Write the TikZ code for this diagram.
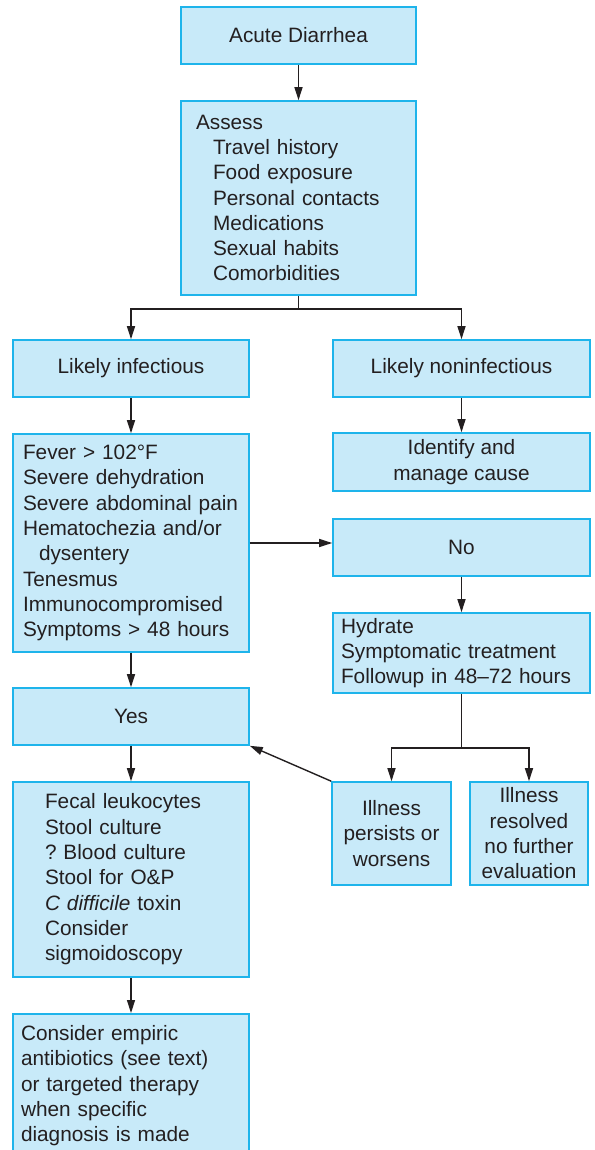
\documentclass[tikz,border=0pt]{standalone}
\usepackage{fontspec}
\setmainfont{Liberation Sans}
\usepackage{tikz}
\usetikzlibrary{arrows.meta, positioning}

\definecolor{boxfill}{RGB}{200,234,249}
\definecolor{boxline}{RGB}{30,180,235}
\definecolor{ink}{RGB}{35,31,32}

\frenchspacing

\tikzset{
    box/.style={draw=boxline, fill=boxfill, line width=0.8pt, text=ink,
        font=\fontsize{10.4}{12.65}\selectfont, inner sep=0pt},
    listbox/.style={box, align=left},
    arr/.style={draw=ink, line width=0.7pt, -{Triangle[length=6.5pt,width=4pt]}},
    link/.style={draw=ink, line width=0.7pt}
}

\begin{document}
\begin{tikzpicture}[x=0.5pt, y=-0.5pt]
                \clip (0,0) rectangle (594,1150);
                \fill[white] (0,0) rectangle (594,1150);

                \node[box, minimum width=117.5pt, minimum height=28.5pt] (acute) at (298.5,35.5) {Acute Diarrhea};
                \node[listbox, minimum width=117.5pt, minimum height=97pt, text width=102.5pt, inner xsep=7.5pt] (assess) at (298.5,198)
                    {Assess\\
                     \hspace*{8.5pt}Travel history\\
                     \hspace*{8.5pt}Food exposure\\
                     \hspace*{8.5pt}Personal contacts\\
                     \hspace*{8.5pt}Medications\\
                     \hspace*{8.5pt}Sexual habits\\
                     \hspace*{8.5pt}Comorbidities};

                \node[box, minimum width=118pt, minimum height=28.5pt] (inf) at (131,368.5) {Likely infectious};
                \node[box, minimum width=128.5pt, minimum height=28.5pt] (noninf) at (461.5,368.5) {Likely noninfectious};

                \node[listbox, minimum width=118pt, minimum height=109pt, text width=112pt, inner xsep=3pt] (fever) at (131,543)
                    {\hspace*{2pt}Fever > 102°F\\
                     \hspace*{2pt}Severe dehydration\\
                     \hspace*{2pt}Severe abdominal pain\\
                     \hspace*{2pt}Hematochezia and/or\\
                     \hspace*{10pt}dysentery\\
                     \hspace*{2pt}Tenesmus\\
                     \hspace*{2pt}Immunocompromised\\
                     \hspace*{2pt}Symptoms > 48 hours};
                \node[box, align=center, minimum width=128.5pt, minimum height=29pt] (ident) at (461.5,462) {Identify and\\manage cause};
                \node[box, minimum width=128.5pt, minimum height=28.5pt] (no) at (461.5,547.5) {No};
                \node[listbox, minimum width=128.5pt, minimum height=40pt, text width=120.5pt, inner xsep=4pt] (hydrate) at (461.5,653)
                    {Hydrate\\
                     Symptomatic treatment\\
                     Followup in 48--72 hours};

                \node[box, minimum width=118pt, minimum height=28.5pt] (yes) at (131,716.5) {Yes};
                \node[listbox, minimum width=118pt, minimum height=97.5pt, text width=86pt, inner xsep=16pt] (fecal) at (131,879.5)
                    {Fecal leukocytes\\
                     Stool culture\\
                     ? Blood culture\\
                     Stool for O\&P\\
                     \textit{C difficile} toxin\\
                     Consider\\
                     sigmoidoscopy};
                \node[box, align=center, minimum width=59.5pt, minimum height=51.5pt] (persists) at (391.5,833.5) {Illness\\persists or\\worsens};
                \node[box, align=center, minimum width=59pt, minimum height=51.5pt] (resolved) at (529,833.5) {Illness\\resolved\\no further\\evaluation};

                \node[listbox, anchor=north, minimum width=118pt, minimum height=72pt, text width=110pt, inner xsep=4pt] (consider) at (131,1013)
                    {Consider empiric\\
                     antibiotics (see text)\\
                     or targeted therapy\\
                     when specific\\
                     diagnosis is made};

                \coordinate (split) at (298.5,309);
                \coordinate (fork) at (461.5,748);

                \draw[arr] (acute) -- (assess);
                \draw[link] (assess) -- (split);
                \draw[arr] (split) -| (inf);
                \draw[arr] (split) -| (noninf);
                \draw[arr] (inf) -- (fever);
                \draw[arr] (noninf) -- (ident);
                \draw[arr] (fever.east) -- (fever.east -| no.west);
                \draw[arr] (no) -- (hydrate);
                \draw[arr] (fever) -- (yes);
                \draw[arr] (yes) -- (fecal);
                \draw[arr] (fecal) -- (consider);
                \draw[link] (hydrate) -- (fork);
                \draw[arr] (fork) -| (persists);
                \draw[arr] (fork) -| (resolved);
                \draw[arr] (persists.north west) -- (yes.south east);
            \end{tikzpicture}
\end{document}
